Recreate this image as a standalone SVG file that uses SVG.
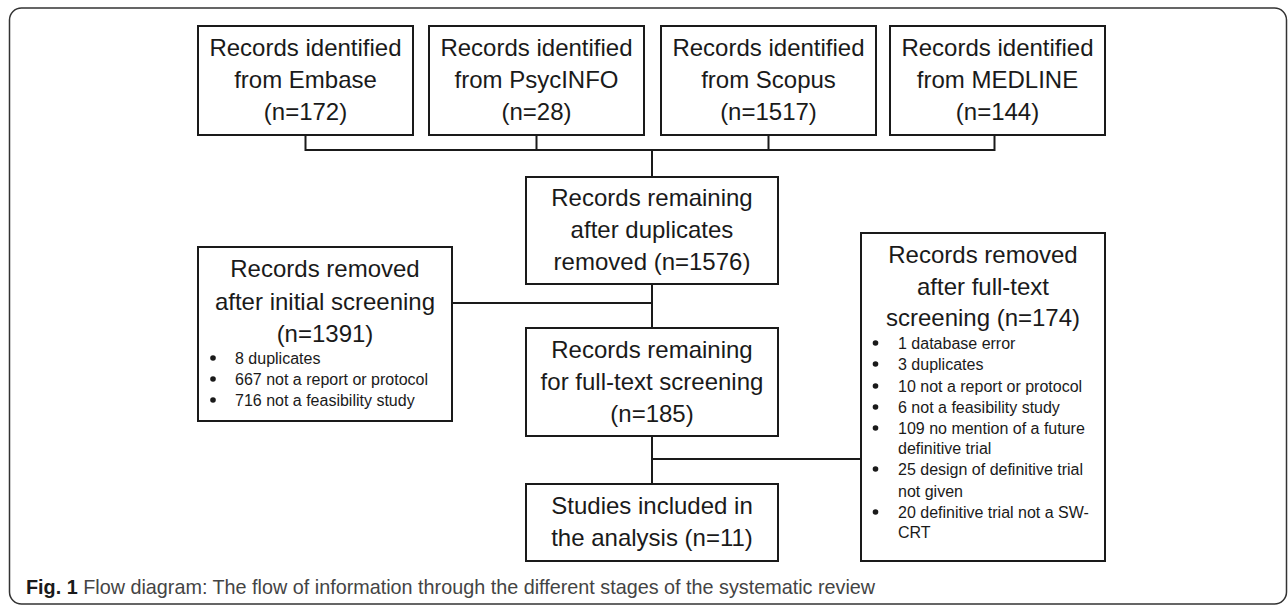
<svg xmlns="http://www.w3.org/2000/svg" width="1288" height="605" viewBox="0 0 1288 605">
<style>
.box{fill:#fff;stroke:#1a1a1a;stroke-width:2}
.t{font-family:"Liberation Sans",Arial,sans-serif;font-size:24px;fill:#1a1a1a;text-anchor:middle}
.b{font-family:"Liberation Sans",Arial,sans-serif;font-size:16px;fill:#1a1a1a}
.dot{fill:#1a1a1a}
.ln{fill:none;stroke:#1a1a1a;stroke-width:2}
.cap{font-family:"Liberation Sans",Arial,sans-serif;font-size:19.8px;fill:#444}
</style>
<rect x="9.5" y="8" width="1277" height="596" rx="12" fill="#fff" stroke="#333" stroke-width="1.5"/>
<g id="connectors">
<path class="ln" d="M305.5 135V150H994.5V135M536.5 135V150M768.5 135V150M652 150V177"/>
<path class="ln" d="M652 284V328M452 303H652"/>
<path class="ln" d="M652 436V484M652 459H861"/>
</g>
<g id="embase"><rect class="box" x="198" y="26" width="215" height="109"/>
<text class="t" x="305.5" y="56">Records identified</text><text class="t" x="305.5" y="88">from Embase</text><text class="t" x="305.5" y="120">(n=172)</text></g>
<g id="psycinfo"><rect class="box" x="429" y="26" width="215" height="109"/>
<text class="t" x="536.5" y="56">Records identified</text><text class="t" x="536.5" y="88">from PsycINFO</text><text class="t" x="536.5" y="120">(n=28)</text></g>
<g id="scopus"><rect class="box" x="661" y="26" width="215" height="109"/>
<text class="t" x="768.5" y="56">Records identified</text><text class="t" x="768.5" y="88">from Scopus</text><text class="t" x="768.5" y="120">(n=1517)</text></g>
<g id="medline"><rect class="box" x="890" y="26" width="215" height="109"/>
<text class="t" x="997.5" y="56">Records identified</text><text class="t" x="997.5" y="88">from MEDLINE</text><text class="t" x="997.5" y="120">(n=144)</text></g>
<g id="after-duplicates"><rect class="box" x="526" y="177" width="252" height="107"/>
<text class="t" x="652" y="206">Records remaining</text><text class="t" x="652" y="238">after duplicates</text><text class="t" x="652" y="270">removed (n=1576)</text></g>
<g id="removed-initial"><rect class="box" x="198" y="247" width="254" height="174"/>
<text class="t" x="325" y="277">Records removed</text><text class="t" x="325" y="310">after initial screening</text><text class="t" x="325" y="342">(n=1391)</text>
<circle class="dot" cx="213" cy="358" r="2.8"/><text class="b" x="235" y="364">8 duplicates</text>
<circle class="dot" cx="213" cy="379" r="2.8"/><text class="b" x="235" y="385">667 not a report or protocol</text>
<circle class="dot" cx="213" cy="400" r="2.8"/><text class="b" x="235" y="406">716 not a feasibility study</text></g>
<g id="full-text"><rect class="box" x="526" y="328" width="252" height="108"/>
<text class="t" x="652" y="358">Records remaining</text><text class="t" x="652" y="390">for full-text screening</text><text class="t" x="652" y="422">(n=185)</text></g>
<g id="included"><rect class="box" x="526" y="484" width="252" height="77"/>
<text class="t" x="652" y="514">Studies included in</text><text class="t" x="652" y="546">the analysis (n=11)</text></g>
<g id="removed-fulltext"><rect class="box" x="861" y="233" width="244" height="328"/>
<text class="t" x="983" y="263">Records removed</text><text class="t" x="983" y="295">after full-text</text><text class="t" x="983" y="326">screening (n=174)</text>
<circle class="dot" cx="875.5" cy="343" r="2.8"/><text class="b" x="898" y="349">1 database error</text>
<circle class="dot" cx="875.5" cy="364" r="2.8"/><text class="b" x="898" y="370">3 duplicates</text>
<circle class="dot" cx="875.5" cy="386" r="2.8"/><text class="b" x="898" y="392">10 not a report or protocol</text>
<circle class="dot" cx="875.5" cy="407" r="2.8"/><text class="b" x="898" y="413">6 not a feasibility study</text>
<circle class="dot" cx="875.5" cy="428" r="2.8"/><text class="b" x="898" y="434">109 no mention of a future</text>
<text class="b" x="898" y="454">definitive trial</text>
<circle class="dot" cx="875.5" cy="469" r="2.8"/><text class="b" x="898" y="475">25 design of definitive trial</text>
<text class="b" x="898" y="497">not given</text>
<circle class="dot" cx="875.5" cy="512" r="2.8"/><text class="b" x="898" y="518">20 definitive trial not a SW-</text>
<text class="b" x="898" y="538">CRT</text></g>
<text class="cap" x="26" y="594"><tspan font-weight="bold" fill="#1a1a1a">Fig. 1</tspan> Flow diagram: The flow of information through the different stages of the systematic review</text>
</svg>
